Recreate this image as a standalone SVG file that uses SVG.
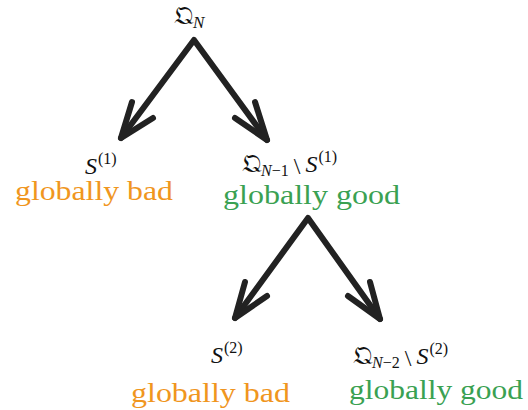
<svg xmlns="http://www.w3.org/2000/svg" width="528" height="410" viewBox="0 0 528 410">
<style>
.m{font-family:"Liberation Serif",serif;fill:#111}
.i{font-style:italic}
.fr{font-family:"DejaVu Serif","DejaVu Sans",serif}
.bad{font-family:"Liberation Serif",serif;font-size:28px;fill:#f0961e}
.good{font-family:"Liberation Serif",serif;font-size:28px;fill:#3aa152}
.arr{fill:none;stroke:#222;stroke-width:6;stroke-linecap:round;stroke-linejoin:round}
</style>
<rect width="528" height="410" fill="#fff"/>
<g id="connectors">
<path class="arr" d="M121 138 L194 40 L267 140"/>
<path class="arr" d="M132 102 L121 138 L153 118"/>
<path class="arr" d="M255 102 L267 140 L235 118"/>
<path class="arr" d="M235 318 L308 218 L380 319"/>
<path class="arr" d="M245 282 L235 318 L267 296"/>
<path class="arr" d="M370 282 L380 319 L348 296"/>
</g>
<g id="root">
<text class="m" x="174" y="24" font-size="26"><tspan class="fr">𝔔</tspan><tspan class="i" font-size="17" dy="4">N</tspan></text>
</g>
<g id="bad1">
<text class="m" x="85" y="174" font-size="24"><tspan class="i">S</tspan><tspan font-size="16" dy="-10" dx="1">(1)</tspan></text>
<text class="bad" x="15" y="200" textLength="158" lengthAdjust="spacingAndGlyphs">globally bad</text>
</g>
<g id="good1">
<text class="m" x="242" y="172" font-size="24"><tspan class="fr" font-size="26">𝔔</tspan><tspan class="i" font-size="16" dy="4">N</tspan><tspan font-size="16">−1</tspan><tspan dy="-2" dx="5">\</tspan><tspan class="i" dx="5" dy="-2">S</tspan><tspan font-size="16" dy="-10" dx="1">(1)</tspan></text>
<text class="good" x="223" y="204" textLength="177" lengthAdjust="spacingAndGlyphs">globally good</text>
</g>
<g id="bad2">
<text class="m" x="211" y="363" font-size="24"><tspan class="i">S</tspan><tspan font-size="16" dy="-10" dx="1">(2)</tspan></text>
<text class="bad" x="131" y="402" textLength="159" lengthAdjust="spacingAndGlyphs">globally bad</text>
</g>
<g id="good2">
<text class="m" x="353" y="364" font-size="24"><tspan class="fr" font-size="26">𝔔</tspan><tspan class="i" font-size="16" dy="4">N</tspan><tspan font-size="16">−2</tspan><tspan dy="-2" dx="5">\</tspan><tspan class="i" dx="5" dy="-2">S</tspan><tspan font-size="16" dy="-10" dx="1">(2)</tspan></text>
<text class="good" x="349" y="399" textLength="174" lengthAdjust="spacingAndGlyphs">globally good</text>
</g>
</svg>
